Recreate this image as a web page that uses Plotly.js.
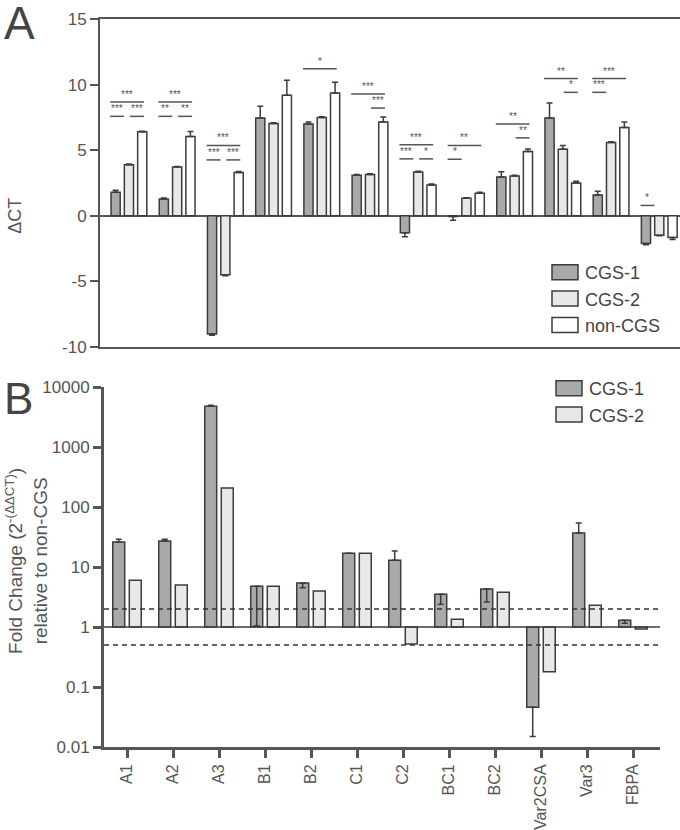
<!DOCTYPE html>
<html><head><meta charset="utf-8">
<script src="https://cdn.plot.ly/plotly-3.0.1.min.js"></script>
<style>body{margin:0;background:#fff}</style>
</head><body><div id="chart" style="width:680px;height:830px"></div>
<script>
// ---------- data ----------
const genes = ['A1','A2','A3','B1','B2','C1','C2','BC1','BC2','Var2CSA','Var3','FBPA'];
const seriesA = ['CGS-1','CGS-2','non-CGS'];
const seriesB = ['CGS-1','CGS-2'];
// Panel A: ΔCT
const dctCGS1    = [1.80, 1.28, -9.00, 7.45, 7.00, 3.10, -1.30, -0.05, 2.95, 7.45, 1.58, -2.12];
const dctCGS1Err = [0.15, 0.08, 0.10, 0.90, 0.15, 0.05, 0.30, 0.28, 0.40, 1.15, 0.30, 0.08];
const dctCGS2    = [3.90, 3.72, -4.50, 7.04, 7.50, 3.15, 3.34, 1.33, 3.04, 5.08, 5.59, -1.48];
const dctCGS2Err = [0.05, 0.03, 0.06, 0.05, 0.05, 0.05, 0.05, 0.05, 0.05, 0.28, 0.05, 0.05];
const dctNon     = [6.40, 6.05, 3.30, 9.18, 9.36, 7.14, 2.35, 1.71, 4.90, 2.50, 6.73, -1.66];
const dctNonErr  = [0.05, 0.38, 0.08, 1.15, 0.82, 0.39, 0.08, 0.08, 0.20, 0.13, 0.41, 0.15];
// significance brackets: gene index, from series, to series, level (ΔCT), label
const sigGene  = [0,0,0, 1,1,1, 2,2,2, 4, 5,5, 6,6,6, 7,7, 8,8, 9,9, 10,10, 11];
const sigFrom  = [0,0,1, 0,0,1, 0,0,1, 0, 0,1, 0,0,1, 0,0, 0,1, 0,1, 0,0, 0];
const sigTo    = [2,1,2, 2,1,2, 2,1,2, 2, 2,2, 2,1,2, 2,1, 2,2, 2,2, 2,1, 1];
const sigLevel = [8.67,7.58,7.58, 8.67,7.58,7.58, 5.36,4.26,4.26, 11.2, 9.29,8.21, 5.41,4.34,4.34, 5.36,4.31, 7.0,5.94, 10.46,9.41, 10.46,9.41, 0.79];
const sigLabel = ['***','***','***', '***','**','**', '***','***','***', '*', '***','***', '***','***','*', '**','*', '**','**', '**','*', '***','***', '*'];
// Panel B: fold change 2^-(ΔΔCT)
const fcCGS1      = [26, 27, 4800, 4.8, 5.4, 17, 13, 3.5, 4.3, 0.046, 37, 1.3];
const fcCGS1ErrUp = [3, 2, 150, 0, 0, 0, 5.5, 0, 0, 0, 17, 0];
const fcCGS1ErrDn = [0, 0, 0, 3.75, 0.9, 0, 0, 1.1, 1.7, 0.031, 0, 0.15];
const fcCGS2      = [6.0, 5.0, 207, 4.8, 4.0, 17, 0.52, 1.35, 3.8, 0.18, 2.3, 0.93];
const thresholds  = [2, 0.5];
const yTicksA = [-10,-5,0,5,10,15];
const yTicksB = [0.01,0.1,1,10,100,1000,10000];

// ---------- styles ----------
const FONT = 'Liberation Sans, Arial, sans-serif';
const TXT = '#555';
const EDGE = '#3c3c3c';
const fills = ['#a9a9a9','#e8e8e8','#ffffff'];
const wA = 0.19, offA = [-0.371, -0.095, 0.181];
const wB = 0.26, offB = [-0.31, 0.05];
// bracket ends relative to the group centre, by series index
const sigStart = [-0.39, 0.02, 0.30];
const sigEnd = [-0.40, -0.10, 0.31];

const valsA = [dctCGS1, dctCGS2, dctNon];
const errsA = [dctCGS1Err, dctCGS2Err, dctNonErr];
const traces = [];
valsA.forEach((v, i) => {
  traces.push({
    type: 'bar', x: genes, y: v, name: seriesA[i], xaxis: 'x', yaxis: 'y',
    width: wA, offset: offA[i], legend: 'legend',
    marker: {color: fills[i], line: {color: EDGE, width: 1.5}},
    error_y: {type: 'data', array: v.map((d, k) => d >= 0 ? errsA[i][k] : 0),
              arrayminus: v.map((d, k) => d < 0 ? errsA[i][k] : 0),
              symmetric: false, color: EDGE, thickness: 1.5, width: 3},
    hoverinfo: 'x+y+name'
  });
});
const valsB = [fcCGS1, fcCGS2];
valsB.forEach((v, i) => {
  traces.push({
    type: 'bar', x: genes, y: v.map(d => d - 1), base: 1, name: seriesB[i],
    xaxis: 'x2', yaxis: 'y2', width: wB, offset: offB[i], legend: 'legend2',
    customdata: v, hovertemplate: '%{x}: %{customdata}<extra>' + seriesB[i] + '</extra>',
    marker: {color: fills[i], line: {color: EDGE, width: 1.5}},
    error_y: i === 0 ? {type: 'data', array: fcCGS1ErrUp, arrayminus: fcCGS1ErrDn,
              symmetric: false, color: EDGE, thickness: 1.5, width: 3} : {visible: false}
  });
});

const shapes = [];
const annotations = [];
sigGene.forEach((g, k) => {
  const x0 = g + sigStart[sigFrom[k]];
  const x1 = g + sigEnd[sigTo[k]];
  shapes.push({type: 'line', xref: 'x', yref: 'y', x0: x0, x1: x1, y0: sigLevel[k], y1: sigLevel[k],
               line: {color: '#555', width: 1.5}});
  annotations.push({xref: 'x', yref: 'y', x: (x0 + x1) / 2, y: sigLevel[k], text: sigLabel[k],
                    showarrow: false, yanchor: 'bottom', yshift: 0,
                    font: {family: FONT, size: 10, color: '#555'}});
});
shapes.push({type: 'line', xref: 'x2 domain', yref: 'y2', x0: 0, x1: 1, y0: 1, y1: 1,
             line: {color: EDGE, width: 1.5}});
thresholds.forEach(t => shapes.push({type: 'line', xref: 'x2 domain', yref: 'y2', x0: 0, x1: 1, y0: t, y1: t,
             line: {color: '#333', width: 1.5, dash: '5px,4px'}}));

annotations.push({xref: 'paper', yref: 'paper', x: 0.003, y: 1.006, xanchor: 'left', yanchor: 'top',
  text: 'A', showarrow: false, font: {family: FONT, size: 46, color: '#444'}});
annotations.push({xref: 'paper', yref: 'paper', x: 0.003, y: 0.552, xanchor: 'left', yanchor: 'top',
  text: 'B', showarrow: false, font: {family: FONT, size: 44, color: '#444'}});
annotations.push({xref: 'paper', yref: 'y', x: 15/680, y: 0, xanchor: 'center', yanchor: 'middle',
  text: 'ΔCT', textangle: -90, showarrow: false, font: {family: FONT, size: 18, color: TXT}});
annotations.push({xref: 'paper', yref: 'y2 domain', x: 27/680, y: 0.517, xanchor: 'center', yanchor: 'middle',
  text: 'Fold Change (2<sup>-(ΔΔCT)</sup>)<br>relative to non-CGS', textangle: -90, showarrow: false,
  font: {family: FONT, size: 19, color: TXT}});

const layout = {
  width: 680, height: 830, margin: {l: 0, r: 0, t: 0, b: 0},
  paper_bgcolor: '#fff', plot_bgcolor: 'rgba(0,0,0,0)',
  font: {family: FONT, color: TXT},
  showlegend: true,
  xaxis: {domain: [100/680, 1], anchor: 'y', type: 'category', range: [-0.6, 11.43],
          showticklabels: false, ticks: '', showline: true, mirror: true, linecolor: '#555', linewidth: 1.5,
          showgrid: false, zeroline: false, fixedrange: true},
  yaxis: {domain: [(830-347)/830, (830-19)/830], anchor: 'x', range: [-10, 15],
          tickvals: yTicksA, ticktext: yTicksA.map(String), ticks: 'outside', ticklen: 8, tickwidth: 2,
          tickcolor: '#555', showline: true, linewidth: 2, linecolor: '#555',
          zeroline: true, zerolinecolor: '#555', zerolinewidth: 2, showgrid: false,
          tickfont: {family: FONT, size: 17, color: TXT}, fixedrange: true},
  xaxis2: {domain: [104/680, 660/680], anchor: 'y2', type: 'category', range: [-0.5, 11.587],
           ticks: 'outside', ticklen: 8, tickwidth: 3, tickcolor: '#555', tickangle: -90,
           showline: true, linewidth: 3, linecolor: '#555', showgrid: false, zeroline: false,
           tickfont: {family: FONT, size: 16, color: TXT}, fixedrange: true},
  yaxis2: {domain: [(830-747)/830, (830-387)/830], anchor: 'x2', type: 'log', range: [-2, 4],
           tickvals: yTicksB, ticktext: yTicksB.map(String), ticks: 'outside', ticklen: 8, tickwidth: 3,
           tickcolor: '#555', showline: true, linewidth: 3, linecolor: '#555', showgrid: false, zeroline: false,
           tickfont: {family: FONT, size: 17, color: TXT}, fixedrange: true},
  legend: {x: 545/680, y: 1 - 254/830, xanchor: 'left', yanchor: 'top', bgcolor: 'rgba(0,0,0,0)',
           font: {family: FONT, size: 18, color: '#444'}, traceorder: 'normal', tracegroupgap: 0},
  legend2: {x: 549/680, y: 1 - 370/830, xanchor: 'left', yanchor: 'top', bgcolor: 'rgba(0,0,0,0)',
           font: {family: FONT, size: 18, color: '#444'}, traceorder: 'normal'},
  shapes: shapes, annotations: annotations
};

Plotly.newPlot('chart', traces, layout, {displayModeBar: false}).then(gd => {
  gd.querySelectorAll('g[class^="legend"] .legendpoints path').forEach(p => {
    p.setAttribute('d', 'M13,7.5H-13V-7.5H13Z');
  });
});
</script>
</body></html>
